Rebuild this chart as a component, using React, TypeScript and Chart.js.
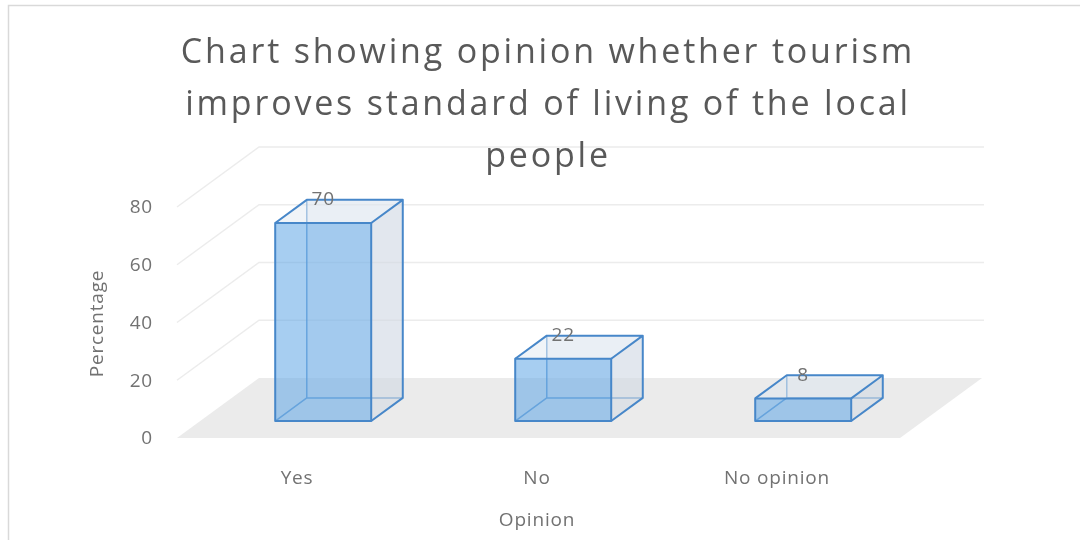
import { useEffect, useRef } from "react";
import { Chart, registerables } from "chart.js";

Chart.register(...registerables);

const categories = ["Yes", "No", "No opinion"];
const percentages = [70, 22, 8];
const yTicks = [0, 20, 40, 60, 80];
const titleLines = [
  "Chart showing opinion whether tourism",
  "improves standard of living of the local",
  "people",
];
const xAxisTitle = "Opinion";
const yAxisTitle = "Percentage";

const FONT = '"Open Sans", "Noto Sans", sans-serif';
const DX = 82; // floor depth, x offset
const DY = 60; // floor depth, y offset
const Z1 = 0.283; // bar front depth
const Z2 = 0.668; // bar back depth
const K = 0.98; // perspective factor for bar heights

const excel3d = {
  id: "excel3d",
  beforeDraw(chart: any) {
    const ctx = chart.ctx as any;
    const x = chart.scales.x;
    const y = chart.scales.y;
    const W = chart.width;
    const H = chart.height;
    ctx.save();
    ctx.fillStyle = "#ffffff";
    ctx.fillRect(0, 0, W, H);

    // outer border
    ctx.strokeStyle = "#d9d9d9";
    ctx.lineWidth = 1.5;
    ctx.beginPath();
    ctx.moveTo(8.5, H);
    ctx.lineTo(8.5, 5.5);
    ctx.lineTo(W, 5.5);
    ctx.stroke();

    const L = x.left - 3;
    const R = x.right;
    const B = y.getPixelForValue(0);

    // floor
    ctx.fillStyle = "#ebebeb";
    ctx.beginPath();
    ctx.moveTo(L, B);
    ctx.lineTo(R, B);
    ctx.lineTo(R + DX, B - DY);
    ctx.lineTo(L + DX, B - DY);
    ctx.closePath();
    ctx.fill();

    // gridlines: side wall diagonals + back wall horizontals
    ctx.strokeStyle = "#ececec";
    ctx.lineWidth = 1.5;
    for (const t of yTicks) {
      if (t === 0) continue;
      const py = y.getPixelForValue(t);
      ctx.beginPath();
      ctx.moveTo(L, py);
      ctx.lineTo(L + DX, py - DY);
      ctx.lineTo(R + DX + 2, py - DY);
      ctx.stroke();
    }

    // tick labels
    ctx.fillStyle = "#727272";
    ctx.font = `19px ${FONT}`;
    ctx.letterSpacing = "0.8px";
    ctx.textAlign = "right";
    ctx.textBaseline = "middle";
    for (const t of yTicks) {
      ctx.fillText(String(t), x.left - 27, y.getPixelForValue(t) + 1);
    }

    // category labels
    ctx.textAlign = "center";
    categories.forEach((c, i) => {
      ctx.fillText(c, x.getPixelForValue(i) - 3, B + 41);
    });

    // axis titles
    ctx.fillText(xAxisTitle, x.getPixelForValue(1) - 3, B + 83);
    ctx.save();
    ctx.translate(98, (y.top + B) / 2 + 1);
    ctx.rotate(-Math.PI / 2);
    ctx.fillText(yAxisTitle, 0, 0);
    ctx.restore();

    // title
    ctx.fillStyle = "#595959";
    ctx.font = `34px ${FONT}`;
    ctx.letterSpacing = "2.8px";
    titleLines.forEach((line, i) => {
      ctx.fillText(line, 548, 53 + i * 52);
    });
    ctx.letterSpacing = "0px";
    ctx.restore();
  },
  afterDatasetsDraw(chart: any) {
    const ctx = chart.ctx as any;
    const x = chart.scales.x;
    const y = chart.scales.y;
    const base = y.getPixelForValue(0);
    const spacing = x.getPixelForValue(1) - x.getPixelForValue(0);
    const hw = spacing * 0.2;
    const ox = (Z2 - Z1) * DX;
    const oy = (Z2 - Z1) * DY;
    ctx.save();
    ctx.lineJoin = "round";
    percentages.forEach((v, i) => {
      const cx = x.getPixelForValue(i);
      const top = base - K * (base - y.getPixelForValue(v));
      const xl = cx - hw + Z1 * DX;
      const xr = cx + hw + Z1 * DX;
      const yb = base - Z1 * DY;
      const yt = top - Z1 * DY;

      // back (hidden) faces light fill
      ctx.fillStyle = "rgba(225,230,238,0.35)";
      ctx.fillRect(xl + ox, yt - oy, xr - xl, yb - yt);

      // hidden edges
      ctx.strokeStyle = "rgba(70,135,200,0.75)";
      ctx.lineWidth = 1.5;
      ctx.beginPath();
      ctx.moveTo(xl + ox, yt - oy);
      ctx.lineTo(xl + ox, yb - oy);
      ctx.lineTo(xr + ox, yb - oy);
      ctx.moveTo(xl, yb);
      ctx.lineTo(xl + ox, yb - oy);
      ctx.stroke();

      // right side face
      ctx.fillStyle = "rgba(205,212,224,0.45)";
      ctx.beginPath();
      ctx.moveTo(xr, yb);
      ctx.lineTo(xr + ox, yb - oy);
      ctx.lineTo(xr + ox, yt - oy);
      ctx.lineTo(xr, yt);
      ctx.closePath();
      ctx.fill();

      // top face
      ctx.fillStyle = "rgba(222,230,240,0.45)";
      ctx.beginPath();
      ctx.moveTo(xl, yt);
      ctx.lineTo(xr, yt);
      ctx.lineTo(xr + ox, yt - oy);
      ctx.lineTo(xl + ox, yt - oy);
      ctx.closePath();
      ctx.fill();

      // front face
      ctx.fillStyle = "rgba(95,165,230,0.55)";
      ctx.fillRect(xl, yt, xr - xl, yb - yt);

      // visible edges
      ctx.strokeStyle = "#4787c9";
      ctx.lineWidth = 2;
      ctx.strokeRect(xl, yt, xr - xl, yb - yt);
      ctx.beginPath();
      ctx.moveTo(xl, yt);
      ctx.lineTo(xl + ox, yt - oy);
      ctx.lineTo(xr + ox, yt - oy);
      ctx.lineTo(xr, yt);
      ctx.moveTo(xr + ox, yt - oy);
      ctx.lineTo(xr + ox, yb - oy);
      ctx.lineTo(xr, yb);
      ctx.stroke();

      // data label
      ctx.fillStyle = "#727272";
      ctx.font = `19px ${FONT}`;
      ctx.letterSpacing = "0.8px";
      ctx.textAlign = "center";
      ctx.textBaseline = "middle";
      ctx.fillText(String(v), cx + Z1 * DX, yt - oy);
      ctx.letterSpacing = "0px";
    });
    ctx.restore();
  },
};

export default function App() {
  const ref = useRef<HTMLCanvasElement | null>(null);
  useEffect(() => {
    if (!ref.current) return;
    const chart = new Chart(ref.current, {
      type: "bar",
      data: {
        labels: categories,
        datasets: [
          {
            label: yAxisTitle,
            data: percentages,
            backgroundColor: "rgba(0,0,0,0)",
            borderWidth: 0,
          },
        ],
      },
      options: {
        animation: false,
        responsive: false,
        layout: { padding: { left: 180, right: 180, top: 207, bottom: 102 } },
        plugins: {
          legend: { display: false },
          tooltip: { enabled: false },
          title: { display: false },
        },
        scales: {
          x: { display: false, offset: true },
          y: { display: false, min: 0, max: 80 },
        },
      },
      plugins: [excel3d],
    });
    return () => chart.destroy();
  }, []);
  return (
    <div style={{ position: "fixed", left: 0, top: 0, width: 1080, height: 540, background: "#fff" }}>
      <canvas ref={ref} width={1080} height={540} style={{ width: 1080, height: 540, display: "block" }} />
    </div>
  );
}
